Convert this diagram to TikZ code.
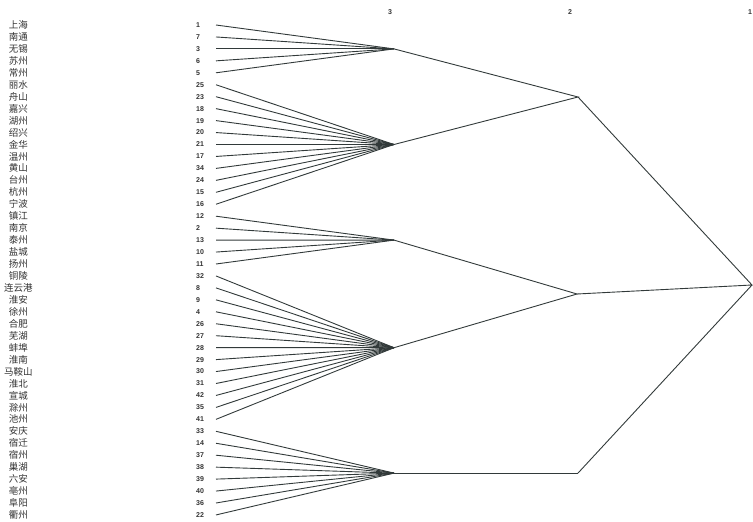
\documentclass[tikz,border=0pt]{standalone}
\usepackage{fontspec}
\setmainfont{Liberation Sans}
\newfontfamily\cjk{Noto Sans CJK SC}
\definecolor{linegray}{RGB}{50,58,58}
\definecolor{textgray}{RGB}{50,50,50}

\begin{document}
\begin{tikzpicture}[x=1pt, y=-1pt,
    city/.style={font=\cjk\fontsize{9.5}{10}\selectfont, text=textgray, inner sep=0pt},
    idx/.style={font=\fontsize{7}{7}\selectfont\bfseries, text=textgray, anchor=west, inner sep=0pt},
    level/.style={font=\fontsize{7}{7}\selectfont\bfseries, text=textgray, inner sep=0pt},
    link/.style={draw=linegray, line width=0.9pt}]
  \useasboundingbox (0,0) rectangle (753,522);

  % 层次标号
  \node[level] (l3) at (390,12) {3};
  \node[level] (l2) at (570,12) {2};
  \node[level] (l1) at (750,12) {1};

  % 城市与编号
  \foreach \name/\num [count=\i] in {上海/1, 南通/7, 无锡/3, 苏州/6, 常州/5,
      丽水/25, 舟山/23, 嘉兴/18, 湖州/19, 绍兴/20, 金华/21, 温州/17, 黄山/34,
      台州/24, 杭州/15, 宁波/16, 镇江/12, 南京/2, 泰州/13, 盐城/10, 扬州/11,
      铜陵/32, 连云港/8, 淮安/9, 徐州/4, 合肥/26, 芜湖/27, 蚌埠/28, 淮南/29,
      马鞍山/30, 淮北/31, 宣城/42, 滁州/35, 池州/41, 安庆/33, 宿迁/14, 宿州/37,
      巢湖/38, 六安/39, 亳州/40, 阜阳/36, 衢州/22} {
    \pgfmathsetmacro{\yy}{25+(\i-1)*11.95}
    \node[city] (city\i) at (18.5,\yy) {\name};
    \node[idx] (n\i) at (196,\yy) {\num};
    \coordinate (s\i) at (216,\yy);
  }

  % 第3层聚类点
  \coordinate (c1) at (394,48.9);
  \coordinate (c2) at (394,144.5);
  \coordinate (c3) at (394,240.1);
  \coordinate (c4) at (394,347.7);
  \coordinate (c5) at (394,473.1);
  % 第2层与第1层
  \coordinate (g1) at (578,97);
  \coordinate (g2) at (577,294);
  \coordinate (g3) at (578,473.1);
  \coordinate (root) at (752,285);

  % 连线
  \foreach \i in {1,...,5}   \draw[link] (s\i) -- (c1);
  \foreach \i in {6,...,16}  \draw[link] (s\i) -- (c2);
  \foreach \i in {17,...,21} \draw[link] (s\i) -- (c3);
  \foreach \i in {22,...,34} \draw[link] (s\i) -- (c4);
  \foreach \i in {35,...,42} \draw[link] (s\i) -- (c5);

  \draw[link] (c1) -- (g1) -- (c2);
  \draw[link] (c3) -- (g2) -- (c4);
  \draw[link] (c5) -- (g3);
  \draw[link] (g1) -- (root) -- (g2);
  \draw[link] (g3) -- (root);
\end{tikzpicture}
\end{document}
